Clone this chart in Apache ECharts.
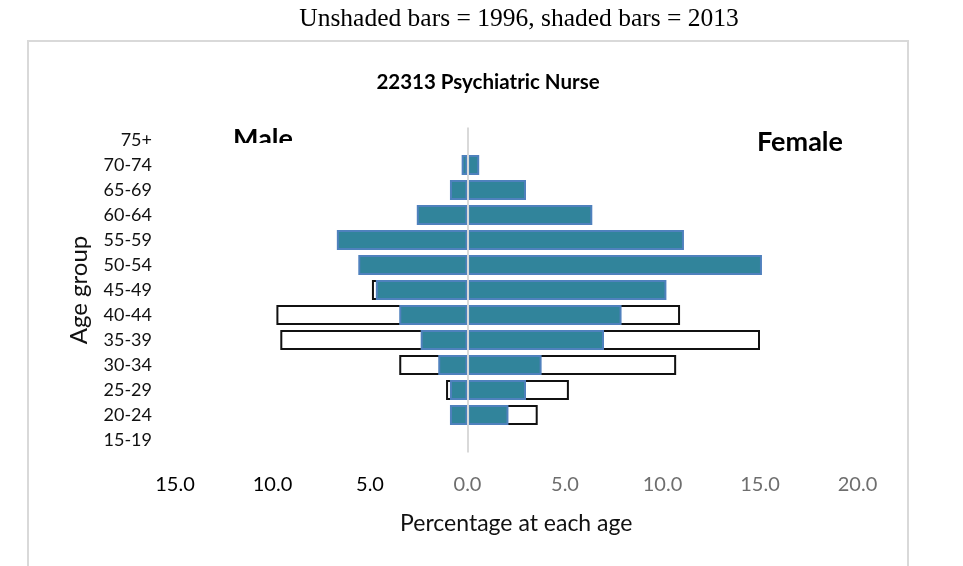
<!DOCTYPE html>
<html>
<head>
<meta charset="utf-8">
<script src="https://cdn.jsdelivr.net/npm/echarts@6/dist/echarts.min.js"></script>
<style>
  html, body { margin: 0; padding: 0; background: #fff; }
  #chart { width: 963px; height: 566px; }
</style>
</head>
<body>
<div id="chart"></div>
<script>
// age groups, bottom to top
const categories = ['15-19', '20-24', '25-29', '30-34', '35-39', '40-44', '45-49', '50-54', '55-59', '60-64', '65-69', '70-74', '75+'];

// percentage at each age
const male1996 = [0, 0.8, 1.1, 3.5, 9.6, 9.8, 4.9, 2.4, 2.4, 1.0, 0.3, 0, 0];
const female1996 = [0, 3.6, 5.2, 10.7, 15.0, 10.9, 9.0, 5.8, 3.0, 1.5, 0.4, 0, 0];
const male2013 = [0, 0.9, 0.9, 1.5, 2.4, 3.5, 4.7, 5.6, 6.7, 2.6, 0.9, 0.3, 0];
const female2013 = [0, 2.1, 3.0, 3.8, 7.0, 7.9, 10.2, 15.1, 11.1, 6.4, 3.0, 0.6, 0];

const xMin = -15;
const xMax = 20;
const xStep = 5;

const FONT = 'Lato';

const chart = echarts.init(document.getElementById('chart'), null, { renderer: 'canvas' });

const shaded = { color: '#31849B', borderColor: '#4F81BD', borderWidth: 2 };
const unshaded = { color: '#FFFFFF', borderColor: '#111111', borderWidth: 2 };

// male values go to the left of zero
const toBars = (arr, sign) => arr.map(v => (v === 0 ? '-' : sign * v));

const option = {
  animation: false,
  textStyle: { fontFamily: FONT },
  grid: { left: 175, right: 105.5, top: 127.5, bottom: 113.5 },
  xAxis: {
    type: 'value',
    min: xMin,
    max: xMax,
    interval: xStep,
    axisLine: { show: false },
    axisTick: { show: false },
    splitLine: { show: false },
    axisLabel: {
      margin: 22,
      fontSize: 20,
      formatter: v => (v < 0 ? '{neg|' + Math.abs(v).toFixed(1) + '}' : '{pos|' + v.toFixed(1) + '}'),
      rich: {
        neg: { color: '#000000', fontSize: 20, fontFamily: FONT },
        pos: { color: '#6E6E6E', fontSize: 20, fontFamily: FONT }
      }
    },
    name: 'Percentage at each age',
    nameLocation: 'middle',
    nameGap: 60,
    nameTextStyle: { color: '#111111', fontSize: 23, fontFamily: FONT }
  },
  yAxis: {
    type: 'category',
    data: categories,
    axisLine: { show: false },
    axisTick: { show: false },
    axisLabel: { color: '#111111', fontSize: 18, margin: 23, fontFamily: FONT },
    name: 'Age group',
    nameLocation: 'middle',
    nameGap: 84,
    nameRotate: 90,
    nameTextStyle: { color: '#111111', fontSize: 24, fontFamily: FONT }
  },
  series: [
    {
      name: 'Male 1996', type: 'bar', data: toBars(male1996, -1),
      barWidth: 20, barGap: '-100%', itemStyle: unshaded,
      markLine: {
        silent: true, symbol: 'none', label: { show: false },
        lineStyle: { color: '#D9D9D9', width: 2, type: 'solid' },
        data: [{ xAxis: 0 }]
      }
    },
    { name: 'Female 1996', type: 'bar', data: toBars(female1996, 1), barWidth: 20, barGap: '-100%', itemStyle: unshaded },
    { name: 'Male 2013', type: 'bar', data: toBars(male2013, -1), barWidth: 20, barGap: '-100%', itemStyle: shaded },
    { name: 'Female 2013', type: 'bar', data: toBars(female2013, 1), barWidth: 20, barGap: '-100%', itemStyle: shaded }
  ],
  graphic: [
    {
      type: 'rect', z: -10, silent: true,
      shape: { x: 28, y: 41, width: 880, height: 540 },
      style: { fill: '#FFFFFF', stroke: '#D9D9D9', lineWidth: 2 }
    },
    {
      type: 'text', x: 519, y: 19,
      style: { text: 'Unshaded bars = 1996, shaded bars = 2013', font: '25.5px "Liberation Serif"', fill: '#000000', align: 'center', verticalAlign: 'middle' }
    },
    {
      type: 'text', x: 488, y: 82,
      style: { text: '22313 Psychiatric Nurse', font: 'bold 20.5px Lato', fill: '#000000', align: 'center', verticalAlign: 'middle' }
    },
    {
      type: 'text', x: 263, y: 139.5,
      style: { text: 'Male', font: 'bold 27px Lato', fill: '#000000', align: 'center', verticalAlign: 'middle' }
    },
    {
      // the text box cuts "Male" off at the bottom
      type: 'rect', silent: true, z: 100,
      shape: { x: 220, y: 143, width: 90, height: 12 },
      style: { fill: '#FFFFFF' }
    },
    {
      type: 'text', x: 800, y: 142,
      style: { text: 'Female', font: 'bold 27px Lato', fill: '#000000', align: 'center', verticalAlign: 'middle' }
    }
  ]
};

chart.setOption(option);
</script>
</body>
</html>
